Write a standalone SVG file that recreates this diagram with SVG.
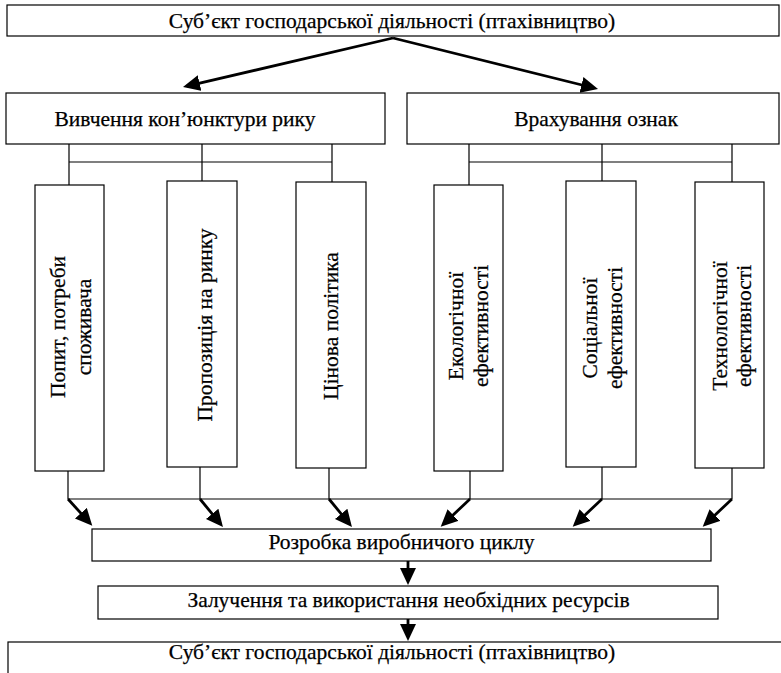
<svg xmlns="http://www.w3.org/2000/svg" width="781" height="673" viewBox="0 0 781 673">
<defs>
<style>
.box{fill:#fff;stroke:#000;stroke-width:1.2}
.ln{fill:none;stroke:#000;stroke-width:1.2}
.ar{fill:none;stroke:#000;stroke-width:2.8;marker-end:url(#ah)}
text{font-family:"Liberation Serif","Times New Roman",serif;font-size:21.5px;fill:#000;stroke:#000;stroke-width:0.25}
.c{text-anchor:middle}
</style>
<marker id="ah" markerUnits="userSpaceOnUse" markerWidth="20" markerHeight="18" refX="13" refY="8" orient="auto">
<path d="M0,0 L17,8 L0,16 z" fill="#000"/>
</marker>
</defs>
<rect width="781" height="673" fill="#fff"/>
<g id="connectors">
<line class="ar" x1="393" y1="38" x2="186.9" y2="86.1"/>
<line class="ar" x1="393" y1="38" x2="594.1" y2="88"/>
<path class="ln" d="M69,144V185M202,144V181M332,144V182M69,162H332"/>
<path class="ln" d="M469,144V185M602,144V181M732,144V182M469,162H732"/>
<path class="ln" d="M68,471V499M200,467V499M329,468V499M470,471V499M602,467V499M732,468V499M68,499H732"/>
<line class="ar" x1="68" y1="499" x2="89.6" y2="522.9"/>
<line class="ar" x1="200" y1="499" x2="220.4" y2="523.9"/>
<line class="ar" x1="329" y1="499" x2="349.4" y2="523.9"/>
<line class="ar" x1="470" y1="499" x2="443.6" y2="523.9"/>
<line class="ar" x1="602" y1="499" x2="575.6" y2="523.9"/>
<line class="ar" x1="732" y1="499" x2="705.6" y2="523.9"/>
<line class="ar" x1="408" y1="561" x2="408" y2="581"/>
<line class="ar" x1="408" y1="619" x2="408" y2="637"/>
</g>
<g id="top">
<rect class="box" x="7" y="5" width="772" height="31"/>
<text class="c" x="392" y="27.5">Суб’єкт господарської діяльності (птахівництво)</text>
</g>
<g id="market">
<rect class="box" x="6" y="93" width="379" height="51"/>
<text class="c" x="185" y="126">Вивчення кон’юнктури рику</text>
</g>
<g id="signs">
<rect class="box" x="407" y="93" width="372" height="51"/>
<text class="c" x="596" y="126">Врахування ознак</text>
</g>
<g id="demand">
<rect class="box" x="35" y="185" width="69" height="286"/>
<text class="c" transform="translate(65,327) rotate(-90)">Попит, потреби</text>
<text class="c" transform="translate(91,327) rotate(-90)">споживача</text>
</g>
<g id="supply">
<rect class="box" x="167" y="181" width="70" height="286"/>
<text class="c" transform="translate(212,325) rotate(-90)">Пропозиція на ринку</text>
</g>
<g id="price">
<rect class="box" x="296" y="182" width="70" height="286"/>
<text class="c" transform="translate(338,326) rotate(-90)">Цінова політика</text>
</g>
<g id="eco">
<rect class="box" x="434" y="185" width="69" height="286"/>
<text class="c" transform="translate(463,326) rotate(-90)">Екологічної</text>
<text class="c" transform="translate(488,326) rotate(-90)">ефективності</text>
</g>
<g id="social">
<rect class="box" x="566" y="181" width="70" height="286"/>
<text class="c" transform="translate(597,328) rotate(-90)">Соціальної</text>
<text class="c" transform="translate(622,328) rotate(-90)">ефективності</text>
</g>
<g id="tech">
<rect class="box" x="695" y="182" width="69" height="286"/>
<text class="c" transform="translate(727,326) rotate(-90)">Технологічної</text>
<text class="c" transform="translate(751,326) rotate(-90)">ефективності</text>
</g>
<g id="cycle">
<rect class="box" x="92" y="529" width="619" height="32"/>
<text class="c" x="401.5" y="549">Розробка виробничого циклу</text>
</g>
<g id="resources">
<rect class="box" x="98" y="586" width="620" height="33"/>
<text class="c" x="408.5" y="607">Залучення та використання необхідних ресурсів</text>
</g>
<g id="bottom">
<rect class="box" x="8" y="642" width="782" height="40"/>
<text class="c" x="392" y="659">Суб’єкт господарської діяльності (птахівництво)</text>
</g>
</svg>
